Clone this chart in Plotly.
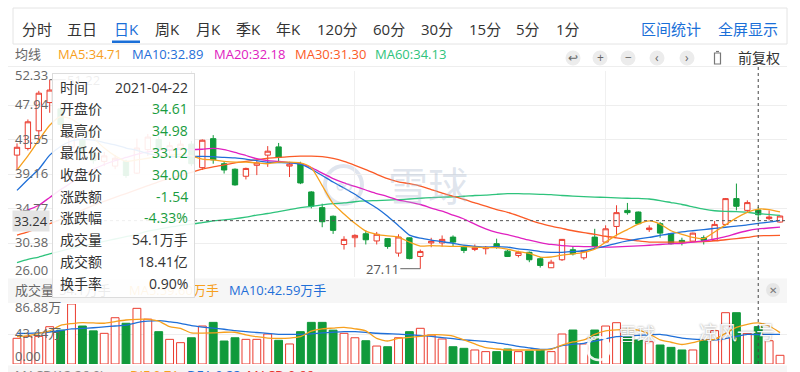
import plotly.graph_objects as go

W, H = 800, 372
def px(p): return p / W
def py(p): return 1 - p / H

# ---------------- data ----------------
jan_days = [8, 11, 12, 13, 14, 15, 18, 19, 20, 21, 22, 25, 26, 27, 28, 29]
feb_days = [1, 2, 3, 4, 5, 8, 9, 10, 18, 19, 22, 23, 24, 25, 26]
mar_days = [1, 2, 3, 4, 5, 8, 9, 10, 11, 12, 15, 16, 17, 18, 19, 22, 23, 24, 25, 26, 29, 30, 31]
apr_days = [1, 2, 6, 7, 8, 9, 12, 13, 14, 15, 16, 19, 20, 21, 22, 23, 26]
dates = ([f"2021-01-{d:02d}" for d in jan_days] + [f"2021-02-{d:02d}" for d in feb_days] +
         [f"2021-03-{d:02d}" for d in mar_days] + [f"2021-04-{d:02d}" for d in apr_days])
month_starts = ["2021-02-01", "2021-03-01", "2021-04-01"]

opens = [41.6, 42.45, 44.7, 48.3, 47.5, 42.6, 43.5, 41.9, 40.8, 40.2,
         40.8, 39.3, 42.3, 43.6, 42.2, 42.5, 43.0, 40.0, 43.7, 40.5,
         39.8, 38.9, 40.3, 41.6, 42.65, 40.2, 40.5, 36.9, 34.9, 33.8,
         30.2, 31.06, 31.57, 30.65, 30.95, 29.1, 31.05, 28.67, 30.4, 30.4,
         31.14, 29.86, 29.57, 29.66, 30.3, 29.35, 28.8, 29.2, 28.38, 27.23,
         28.25, 29.53, 28.5, 31.14, 30.5, 32.5, 34.55, 34.34, 32.1, 32.85,
         31.57, 30.72, 30.63, 31.06, 30.72, 32.76, 36.05, 34.55, 34.61, 33.5, 33.06]
highs = [43.1, 46.15, 49.8, 51.22, 48.2, 45.0, 44.0, 42.3, 42.0, 41.6,
         41.0, 43.7, 44.3, 44.0, 43.3, 43.5, 43.4, 43.6, 44.15, 40.8,
         39.9, 40.0, 41.05, 42.75, 43.15, 40.75, 40.75, 37.0, 35.4, 33.9,
         31.25, 31.5, 32.0, 31.8, 31.0, 31.5, 31.1, 29.55, 31.05, 31.35,
         31.36, 30.08, 30.2, 30.0, 30.94, 29.5, 29.4, 29.3, 28.58, 28.25,
         30.9, 29.95, 29.5, 32.2, 32.64, 35.2, 35.5, 34.4, 32.64, 33.06,
         31.65, 31.06, 31.7, 31.36, 33.2, 36.13, 37.97, 35.83, 34.98, 34.55, 33.9]
lows = [39.7, 42.2, 43.5, 47.0, 45.0, 41.5, 41.3, 40.5, 40.2, 39.8,
        38.7, 39.2, 41.5, 42.0, 41.8, 42.1, 40.2, 39.7, 40.5, 39.25,
        37.7, 38.5, 39.05, 40.1, 40.75, 38.8, 37.9, 34.8, 32.4, 31.55,
        29.55, 29.85, 30.2, 30.2, 29.65, 28.65, 28.3, 27.11, 29.85, 29.95,
        30.0, 29.1, 29.35, 28.93, 29.66, 28.6, 28.55, 27.94, 27.25, 27.2,
        28.1, 28.8, 28.25, 29.78, 30.38, 31.23, 34.0, 32.8, 31.8, 31.06,
        30.2, 30.08, 30.6, 30.2, 30.63, 32.64, 34.55, 34.26, 33.12, 33.27, 33.0]
closes = [42.6, 45.85, 49.5, 49.9, 45.5, 44.0, 41.8, 40.9, 41.5, 41.2,
          39.0, 42.5, 43.9, 42.3, 42.8, 43.0, 40.5, 43.5, 41.0, 39.7,
          37.8, 39.9, 40.6, 42.1, 41.3, 40.45, 38.05, 35.1, 33.1, 32.0,
          30.85, 31.36, 30.8, 31.5, 29.95, 31.15, 28.4, 29.31, 30.6, 30.85,
          30.5, 29.44, 29.78, 29.86, 29.86, 28.67, 29.2, 28.25, 27.52, 27.94,
          30.85, 29.0, 29.44, 29.95, 32.2, 34.26, 34.26, 32.85, 32.3, 31.65,
          30.3, 30.5, 31.65, 30.72, 32.76, 36.05, 35.07, 35.54, 34.00, 33.7, 33.83]
volumes = [37.2, 40, 40, 54, 49, 86.88, 55, 48, 44.4, 67,
           59, 80.6, 65, 46.8, 35.7, 30.9, 38, 55, 60.3, 33.3,
           38, 35.7, 35.7, 43.4, 34.3, 29, 46.8, 60.3, 60.3, 49,
           44.4, 38, 33.7, 26, 25, 38, 46.8, 51.7, 42, 36.2,
           25, 22.7, 20.3, 17.9, 17.9, 21.7, 17.9, 18.8, 20.3, 17.9,
           43.4, 49.2, 29, 49.2, 55, 59.8, 39.6, 34.8, 32.3, 27.5,
           24.1, 20.3, 20.3, 34.8, 48.3, 74.3, 74.3, 44.4, 54.1, 33.7, 12.6]

ma5 = [39.7, 41.5, 43.5, 45.4, 46.5, 46.2, 45.2, 43.8, 42.5, 41.5,
       40.8, 41.0, 41.2, 41.4, 41.6, 41.7, 41.5, 41.1, 41.0, 40.8,
       40.7, 40.7, 40.6, 40.5, 40.7, 40.7, 40.6, 40.0, 37.7, 35.4,
       34.1, 32.9, 31.9, 31.5, 31.3, 31.15, 30.5, 30.0, 30.05, 30.0,
       29.95, 29.95, 29.85, 29.8, 29.8, 29.6, 29.3, 29.05, 28.6, 28.6,
       28.85, 29.0, 29.2, 29.6, 30.5, 31.4, 32.1, 32.8, 33.2, 32.8,
       31.95, 31.5, 31.1, 30.95, 31.8, 32.7, 33.6, 34.3, 34.71, 34.65, 34.35]
ma10 = [37.1, 38.5, 39.8, 41.6, 42.7, 43.4, 43.6, 43.5, 43.2, 42.9,
        42.5, 42.2, 41.8, 41.6, 41.4, 41.4, 41.4, 41.45, 41.4, 41.3,
        41.25, 41.1, 40.9, 40.7, 40.65, 40.6, 40.44, 39.8, 39.0, 38.17,
        37.4, 36.6, 35.7, 34.85, 33.8, 32.6, 31.4, 31.0, 30.75, 30.55,
        30.35, 30.1, 29.95, 29.86, 29.93, 29.85, 29.65, 29.5, 29.3, 29.2,
        29.2, 29.3, 29.4, 29.7, 30.0, 30.35, 30.65, 30.9, 31.1, 31.35,
        31.6, 31.8, 31.95, 32.1, 32.25, 32.4, 32.55, 32.7, 32.89, 33.05, 33.27]
ma20 = [34.2, 34.6, 35.2, 36.2, 37.2, 38.1, 39.0, 39.8, 40.4, 40.9,
        41.3, 41.7, 42.0, 42.2, 42.3, 42.35, 42.3, 42.35, 42.45, 42.3,
        41.95, 41.55, 41.15, 40.9, 40.8, 40.65, 40.5, 40.0, 39.3, 38.6,
        38.05, 37.6, 37.15, 36.7, 36.3, 35.85, 35.6, 35.3, 34.85, 34.45,
        33.95, 33.45, 32.8, 32.2, 31.75, 31.45, 31.1, 30.75, 30.45, 30.2,
        30.05, 29.97, 29.93, 29.9, 29.87, 29.9, 29.97, 30.03, 30.1, 30.2,
        30.28, 30.35, 30.5, 30.65, 30.9, 31.2, 31.6, 31.95, 32.18, 32.3, 32.42]
ma30 = [31.4, 31.8, 32.3, 32.85, 33.4, 34.0, 34.6, 35.2, 35.7, 36.2,
        36.7, 37.2, 37.7, 38.2, 38.6, 39.0, 39.4, 39.8, 40.1, 40.35,
        40.6, 40.8, 41.0, 41.2, 41.3, 41.4, 41.46, 41.48, 41.4, 41.17,
        40.8, 40.3, 39.75, 39.15, 38.6, 38.2, 37.95, 37.65, 37.2, 36.75,
        36.35, 35.95, 35.5, 35.1, 34.65, 34.3, 33.85, 33.35, 32.9, 32.55,
        32.25, 31.95, 31.7, 31.5, 31.25, 31.05, 30.85, 30.65, 30.5, 30.5,
        30.5, 30.5, 30.52, 30.56, 30.65, 30.8, 30.95, 31.1, 31.3, 31.33, 31.36]
ma60 = [27.9, 28.3, 28.6, 29.0, 29.35, 29.7, 30.0, 30.3, 30.6, 30.9,
        31.2, 31.5, 31.9, 32.15, 32.4, 32.65, 32.8, 33.0, 33.2, 33.35,
        33.5, 33.7, 33.95, 34.15, 34.4, 34.65, 34.9, 35.05, 35.25, 35.4,
        35.5, 35.65, 35.75, 35.8, 35.87, 35.92, 36.0, 36.1, 36.17, 36.23,
        36.28, 36.35, 36.45, 36.5, 36.6, 36.68, 36.68, 36.65, 36.6, 36.55,
        36.45, 36.38, 36.3, 36.25, 36.2, 36.15, 36.1, 36.08, 36.0, 35.8,
        35.55, 35.3, 35.0, 34.7, 34.5, 34.43, 34.38, 34.3, 34.13, 34.05, 33.91]
vma5 = [39.5, 41, 44.4, 48, 56, 58.5, 60, 59.5, 59, 61.5,
        63.7, 64.7, 64.7, 62, 54, 51.5, 45, 44.8, 45, 46,
        46, 42.3, 39.5, 37.6, 37.2, 37.6, 39.5, 47.6, 51, 52,
        53, 51, 48, 37.2, 33.3, 37.2, 38.6, 40, 42.3, 42.3,
        40.5, 34.8, 29, 23.7, 21.7, 20.3, 20.3, 20.3, 20.3, 21.2,
        27.5, 31.9, 34.8, 43, 48, 49.5, 50, 49.2, 43.5, 34.8,
        31.5, 28.2, 31, 34.8, 35.7, 44.4, 53, 57.5, 59.6, 55, 45.5]
vma10 = [44.4, 44.4, 45, 46.3, 48.5, 50.8, 51.5, 52.5, 53.7, 55,
         56.3, 60, 62, 62.8, 61, 58.9, 55.5, 53.5, 52, 50.3,
         48.3, 46.8, 45.6, 44.3, 43, 42.9, 42.9, 43.7, 45, 46,
         46.8, 46.8, 45.8, 44.5, 43.8, 43.4, 42.4, 41.3, 40, 38.2,
         36.6, 35, 33.8, 32.8, 30.5, 28.3, 25.5, 23.3, 21.2, 22,
         26.5, 28.5, 30, 33, 36.5, 39.5, 40.5, 41.5, 42.3, 42.9,
         40.5, 37.5, 36, 35.3, 34.8, 36.8, 40, 42.8, 42.59, 43, 42.9]

price_ticks = ["52.33", "47.94", "43.55", "39.16", "34.77", "30.38", "26.00"]
vol_ticks = ["86.88万", "43.44万", "0.00"]
tabs = ["分时", "五日", "日K", "周K", "月K", "季K", "年K", "120分", "60分", "30分", "15分", "5分", "1分"]
sel = 68
cursor_price = 33.24
turnover_amt = "18.41亿"
turnover_rate = "0.90%"

# ---------------- style ----------------
RED = "#eb3b2e"
GREEN = "#109a3b"
TGREEN = "#1a9c3e"
TXT = "#333333"
GRAY = "#666666"
BLUE = "#1a6fd8"
C_MA5, C_MA10, C_MA20, C_MA30, C_MA60 = "#f7a01d", "#1f6fd8", "#e020c0", "#fb5b27", "#2ec37c"
FONT = "Open Sans, Noto Sans CJK SC, sans-serif"

fig = go.Figure()
fig.add_trace(go.Candlestick(
    x=dates, open=opens, high=highs, low=lows, close=closes,
    increasing=dict(line=dict(color=RED, width=1), fillcolor="#ffffff"),
    decreasing=dict(line=dict(color=GREEN, width=1), fillcolor=GREEN),
    whiskerwidth=0, hoverinfo="skip", xaxis="x", yaxis="y", showlegend=False))
for vals, col in [(ma60, C_MA60), (ma30, C_MA30), (ma20, C_MA20), (ma10, C_MA10), (ma5, C_MA5)]:
    fig.add_trace(go.Scatter(x=dates, y=vals, mode="lines",
                             line=dict(color=col, width=1.3, shape="spline", smoothing=0.6),
                             hoverinfo="skip", xaxis="x", yaxis="y", showlegend=False))
up = [c > o for o, c in zip(opens, closes)]
fig.add_trace(go.Bar(x=dates, y=volumes, width=0.72,
                     marker=dict(color=["#ffffff" if u else GREEN for u in up],
                                 line=dict(color=[RED if u else GREEN for u in up], width=1)),
                     hoverinfo="skip", xaxis="x2", yaxis="y2", showlegend=False))
for vals, col in [(vma10, C_MA10), (vma5, C_MA5)]:
    fig.add_trace(go.Scatter(x=dates, y=vals, mode="lines",
                             line=dict(color=col, width=1.3, shape="spline", smoothing=0.6),
                             hoverinfo="skip", xaxis="x2", yaxis="y2", showlegend=False))

def txt(x, y, s, size=13, color=TXT, xanchor="center", yanchor="middle", **kw):
    d = dict(x=px(x), y=py(y), xref="paper", yref="paper", text=s, showarrow=False,
             font=dict(size=size, color=color, family=FONT), xanchor=xanchor, yanchor=yanchor)
    d.update(kw)
    return d

shapes = []
# top tab box
shapes.append(dict(type="rect", xref="paper", yref="paper", x0=px(13), x1=px(787), y0=py(44), y1=py(8),
                   line=dict(color="#e4e4e4", width=1), fillcolor="#ffffff", layer="below"))
shapes.append(dict(type="rect", xref="paper", yref="paper", x0=px(112), x1=px(140), y0=py(43), y1=py(40.5),
                   line=dict(width=0), fillcolor=BLUE))
shapes.append(dict(type="line", xref="paper", yref="paper", x0=px(8), x1=px(787), y0=py(66.5), y1=py(66.5),
                   line=dict(color="#eeeeee", width=1)))
# volume header band / macd band
shapes.append(dict(type="rect", xref="paper", yref="paper", x0=px(8), x1=px(787), y0=py(303), y1=py(278.5),
                   line=dict(width=0), fillcolor="#f6f6f6", layer="below"))
shapes.append(dict(type="rect", xref="paper", yref="paper", x0=px(8), x1=px(787), y0=py(372), y1=py(365.5),
                   line=dict(width=0), fillcolor="#f6f6f6", layer="below"))
# icon circles
for cx in [573, 600, 628, 657, 687]:
    shapes.append(dict(type="circle", xref="paper", yref="paper", x0=px(cx - 7.5), x1=px(cx + 7.5),
                       y0=py(58 + 7.5), y1=py(58 - 7.5), line=dict(width=0), fillcolor="#ececec"))
shapes.append(dict(type="rect", xref="paper", yref="paper", x0=px(714.5), x1=px(720.5), y0=py(64), y1=py(53),
                   line=dict(color="#777777", width=1.2), fillcolor="rgba(0,0,0,0)"))
shapes.append(dict(type="line", xref="paper", yref="paper", x0=px(716), x1=px(719), y0=py(51.5), y1=py(51.5),
                   line=dict(color="#777777", width=1.2)))
# close button
shapes.append(dict(type="circle", xref="paper", yref="paper", x0=px(766), x1=px(780), y0=py(297), y1=py(283),
                   line=dict(width=0), fillcolor="#e6e6e6"))
# watermark center logo
shapes.append(dict(type="circle", xref="paper", yref="paper", x0=px(325), x1=px(362), y0=py(204), y1=py(166),
                   line=dict(color="rgba(165,180,205,0.35)", width=4), layer="below"))
# bottom watermark logo
shapes.append(dict(type="circle", xref="paper", yref="paper", x0=px(587), x1=px(610), y0=py(360), y1=py(337),
                   line=dict(color="rgba(255,255,255,0.9)", width=2.5), layer="above"))
# crosshair
shapes.append(dict(type="line", xref="x", yref="paper", x0=dates[sel], x1=dates[sel], y0=py(364), y1=py(66.5),
                   line=dict(color="#444444", width=1, dash="dot"), layer="above"))
shapes.append(dict(type="line", xref="paper", yref="y", x0=px(50), x1=px(787), y0=cursor_price, y1=cursor_price,
                   line=dict(color="#555555", width=1, dash="dot"), layer="above"))

ann = []
tab_x = [37, 82, 126, 167, 208, 248, 288, 337, 389, 437, 485, 528, 568]
for t, x in zip(tabs, tab_x):
    ann.append(txt(x, 29, t, size=15, color=BLUE if t == "日K" else TXT))
ann.append(txt(671, 29, "区间统计", size=15, color=BLUE))
ann.append(txt(748, 29, "全屏显示", size=15, color=BLUE))

# MA legend row
ann.append(txt(13, 54, "均线", color=GRAY, xanchor="left"))
for x, name, vals, col in [(56, "MA5", ma5, C_MA5), (130, "MA10", ma10, C_MA10), (212, "MA20", ma20, C_MA20),
                           (293, "MA30", ma30, C_MA30), (373, "MA60", ma60, C_MA60)]:
    ann.append(txt(x, 54, f"{name}:{vals[sel]:.2f}", color=col, xanchor="left"))
for cx, sym in zip([573, 600, 628, 657, 687], ["↩", "+", "−", "‹", "›"]):
    ann.append(txt(cx, 58, sym, size=12, color="#666666"))
ann.append(txt(759, 58, "前复权", size=14, color=TXT))

# price axis labels
for i, lab in enumerate(price_ticks):
    shift = 1
    if i == 0:
        shift = -4
    elif i == len(price_ticks) - 1:
        shift = 7
    ann.append(dict(x=px(13), y=float(lab), xref="paper", yref="y", text=lab, showarrow=False,
                    font=dict(size=13, color=GRAY, family=FONT), xanchor="left", yanchor="middle", yshift=shift))
ann.append(dict(x=px(12), y=cursor_price, xref="paper", yref="y", text=f"{cursor_price:.2f}", showarrow=False,
                font=dict(size=13, color=TXT, family=FONT), xanchor="left", yanchor="middle",
                bgcolor="#e4e4e4", borderpad=1))

# min / max markers
imax = max(range(len(highs)), key=lambda i: highs[i])
imin = min(range(len(lows)), key=lambda i: lows[i])
ann.append(dict(x=dates[imax], y=highs[imax], xref="x", yref="y", text=f"{highs[imax]:.2f}",
                showarrow=True, arrowhead=0, arrowwidth=1, arrowcolor="#666666", ax=34, ay=0,
                font=dict(size=13, color="#555555", family=FONT)))
ann.append(dict(x=dates[imin], y=lows[imin], xref="x", yref="y", text=f"{lows[imin]:.2f}",
                showarrow=True, arrowhead=0, arrowwidth=1, arrowcolor="#666666", ax=-38, ay=0,
                font=dict(size=13, color="#555555", family=FONT)))

# volume header
ann.append(txt(13, 290, "成交量", color=GRAY, xanchor="left"))
ann.append(txt(57, 290, f"{volumes[sel]:.1f}万手", color=TXT, xanchor="left"))
ann.append(txt(127, 290, f"MA5:{vma5[sel]:.2f}万手", color=C_MA5, xanchor="left"))
ann.append(txt(227, 290, f"MA10:{vma10[sel]:.2f}万手", color=C_MA10, xanchor="left"))
ann.append(txt(773, 290, "✕", size=10, color="#777777"))

# tooltip box
ann.append(dict(x=px(52), y=py(73), xref="paper", yref="paper", xanchor="left", yanchor="top", text=" ",
                width=141, height=223, bgcolor="rgba(255,255,255,0.9)", bordercolor="#dcdcdc",
                borderwidth=1, borderpad=0, showarrow=False))
prev_close = closes[sel - 1]
chg = closes[sel] - prev_close
pct = chg / prev_close * 100
rows = [("时间", dates[sel], TXT),
        ("开盘价", f"{opens[sel]:.2f}", TGREEN),
        ("最高价", f"{highs[sel]:.2f}", TGREEN),
        ("最低价", f"{lows[sel]:.2f}", TGREEN),
        ("收盘价", f"{closes[sel]:.2f}", TGREEN),
        ("涨跌额", f"{chg:.2f}", TGREEN),
        ("涨跌幅", f"{pct:.2f}%", TGREEN),
        ("成交量", f"{volumes[sel]:.1f}万手", TXT),
        ("成交额", turnover_amt, TXT),
        ("换手率", turnover_rate, TXT)]
for i, (lab, val, col) in enumerate(rows):
    yy = 87 + 21.8 * i
    ann.append(txt(58, yy, lab, size=14, color=TXT, xanchor="left"))
    ann.append(txt(190, yy, val, size=14, color=col, xanchor="right"))

# volume axis labels
ann.append(txt(13, 307, vol_ticks[0], color=GRAY, xanchor="left"))
ann.append(txt(13, 333, vol_ticks[1], color=GRAY, xanchor="left"))
ann.append(txt(13, 356, vol_ticks[2], color=GRAY, xanchor="left"))

# MACD row (cut off at the bottom, as in the original)
ann.append(txt(13, 375, "MACD(12,26,9)", color="#888888", xanchor="left"))
ann.append(txt(128, 375, "DIF:0.71", color=C_MA5, xanchor="left"))
ann.append(txt(185, 375, "DEA:0.33", color=C_MA10, xanchor="left"))
ann.append(txt(245, 375, "MACD:0.66", color="#e8322a", xanchor="left"))

# watermarks
ann.append(txt(343.5, 186, "∞", size=26, color="rgba(165,180,205,0.35)"))
ann.append(txt(428, 185, "雪球", size=40, color="rgba(165,180,205,0.35)"))
shadow = "0px 0px 2px rgba(0,0,0,0.45)"
ann.append(dict(x=px(598.5), y=py(348.5), xref="paper", yref="paper", text="∞", showarrow=False,
                font=dict(size=14, color="rgba(255,255,255,0.95)", family=FONT, shadow=shadow)))
ann.append(dict(x=px(617), y=py(348), xref="paper", yref="paper", text="雪球", showarrow=False,
                xanchor="left", font=dict(size=18, color="rgba(255,255,255,0.95)", family=FONT, shadow=shadow)))
ann.append(dict(x=px(697), y=py(348), xref="paper", yref="paper", text="凉风一号", showarrow=False,
                xanchor="left", font=dict(size=19, color="rgba(255,255,255,0.95)", family=FONT, shadow=shadow)))

xr = [-0.826, 70.64]
fig.update_layout(
    width=W, height=H, margin=dict(l=0, r=0, t=0, b=0),
    paper_bgcolor="#ffffff", plot_bgcolor="#ffffff",
    showlegend=False, hovermode=False, dragmode=False,
    font=dict(family=FONT),
    boxgap=0.3,
    xaxis=dict(domain=[px(8), px(787)], range=xr, type="category", showgrid=True, gridcolor="#f0f0f0",
               tickmode="array", tickvals=month_starts, showticklabels=False, ticks="", zeroline=False,
               showline=False, rangeslider=dict(visible=False), fixedrange=True, anchor="y"),
    yaxis=dict(domain=[py(277.4), py(71)], range=[26.0, 52.33], tickmode="array",
               tickvals=[float(v) for v in price_ticks[1:-1]], showticklabels=False, ticks="",
               gridcolor="#eeeeee", zeroline=False, showline=False, fixedrange=True, anchor="x"),
    xaxis2=dict(domain=[px(8), px(787)], range=xr, type="category", matches="x", showgrid=False,
                showticklabels=False, ticks="", zeroline=False, showline=False, fixedrange=True, anchor="y2"),
    yaxis2=dict(domain=[py(364), py(304)], range=[0, 86.88], tickmode="array", tickvals=[43.44],
                showticklabels=False, ticks="", gridcolor="#eeeeee", zeroline=False, showline=False,
                fixedrange=True, anchor="x2"),
    shapes=shapes, annotations=ann,
)
fig.write_html("out.html", config={"displayModeBar": False},
               post_script="document.body.style.margin='0';document.body.style.overflow='hidden';")
